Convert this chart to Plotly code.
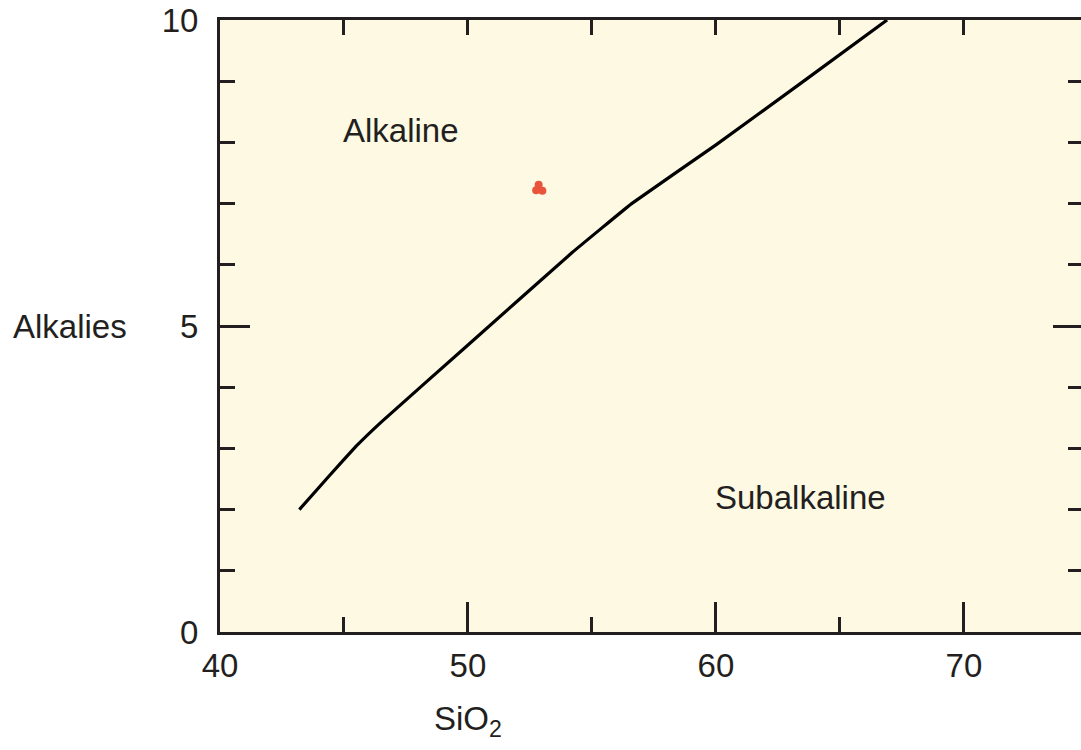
import plotly.graph_objects as go

# Dividing line (alkaline / subalkaline)
line_sio2 = [43.2, 44.4, 45.5, 46.5, 50.0, 54.2, 56.6, 60.0, 63.4, 66.9]
line_alk = [2.0, 2.55, 3.04, 3.43, 4.69, 6.2, 7.0, 7.96, 8.96, 10.0]

# Sample points
pts_sio2 = [52.85, 52.75, 53.0]
pts_alk = [7.31, 7.22, 7.21]

# Labels
region_labels = ["Alkaline", "Subalkaline"]
region_x = [47.3, 63.4]
region_y = [8.2, 2.2]

x_range = [40, 74.72]
y_range = [0, 10]

ink = "#231f20"
font_family = "Liberation Sans, Arial, Helvetica, sans-serif"
fsize = 33

fig = go.Figure()
fig.add_trace(go.Scatter(x=line_sio2, y=line_alk, mode="lines",
                         line=dict(color="#000000", width=3.2, shape="spline", smoothing=0.2),
                         showlegend=False, hoverinfo="skip"))
fig.add_trace(go.Scatter(x=pts_sio2, y=pts_alk, mode="markers",
                         marker=dict(color="#e8553a", size=8, line=dict(width=0)),
                         showlegend=False))
# helper trace so that the mirror axes are drawn
fig.add_trace(go.Scatter(x=[None], y=[None], xaxis="x2", yaxis="y2", mode="markers",
                         showlegend=False, hoverinfo="skip"))

for txt, xx, yy in zip(region_labels, region_x, region_y):
    fig.add_annotation(x=xx, y=yy, text=txt, showarrow=False,
                       font=dict(size=fsize, color=ink, family=font_family),
                       xanchor="center", yanchor="middle")

fig.add_annotation(x=50, y=-0.145, xref="x", yref="paper", text="SiO<sub>2</sub>",
                   showarrow=False, font=dict(size=fsize, color=ink, family=font_family),
                   xanchor="center", yanchor="middle")
fig.add_annotation(x=-0.174, y=5, xref="paper", yref="y", text="Alkalies",
                   showarrow=False, font=dict(size=fsize, color=ink, family=font_family),
                   xanchor="center", yanchor="middle")

fig.update_layout(
    width=1081, height=750,
    margin=dict(l=220, r=0, t=20, b=118, pad=0),
    paper_bgcolor="white",
    plot_bgcolor="#fdf9e3",
    font=dict(family=font_family, size=fsize, color=ink),
    xaxis=dict(range=x_range, tickvals=[40, 50, 60, 70], ticks="inside", ticklen=30,
               tickwidth=2.5, tickcolor=ink, showline=True, linecolor=ink, linewidth=3,
               mirror=True, showgrid=False, zeroline=False, ticklabelstandoff=2,
               minor=dict(tickvals=[45, 55, 65], ticks="inside", ticklen=15,
                          tickwidth=2.5, tickcolor=ink, showgrid=False),
               tickfont=dict(size=fsize, color=ink)),
    yaxis=dict(range=y_range, tickvals=[0, 5, 10], ticks="inside", ticklen=30,
               tickwidth=2.5, tickcolor=ink, showline=True, linecolor=ink, linewidth=3,
               mirror=False, showgrid=False, zeroline=False, ticklabelstandoff=12,
               minor=dict(dtick=1, ticks="inside", ticklen=15, tickwidth=2.5,
                          tickcolor=ink, showgrid=False),
               tickfont=dict(size=fsize, color=ink)),
    xaxis2=dict(range=x_range, overlaying="x", side="top", anchor="y",
                tickvals=[45, 50, 55, 60, 65, 70], ticks="inside", ticklen=15, tickwidth=2.5,
                tickcolor=ink, showline=False, showgrid=False, zeroline=False,
                showticklabels=False),
    yaxis2=dict(range=y_range, overlaying="y", side="right", anchor="x",
                tickvals=[5], ticks="inside", ticklen=28, tickwidth=2.5, tickcolor=ink,
                showline=False, showgrid=False, zeroline=False, showticklabels=False,
                minor=dict(dtick=1, ticks="inside", ticklen=13, tickwidth=2.5,
                           tickcolor=ink, showgrid=False)),
)

fig.write_html("out.html")
